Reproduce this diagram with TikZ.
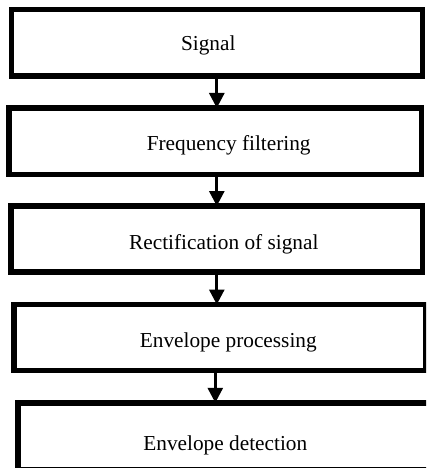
\documentclass[tikz,border=0pt]{standalone}
\usepackage{fontspec}
\setmainfont{Liberation Serif}
\usetikzlibrary{arrows.meta}
\begin{document}
\begin{tikzpicture}[x=1pt,y=-1pt,
  stagebox/.style={draw=black,line width=5.5pt,fill=none,rectangle,inner sep=0pt,outer sep=0pt},
  caption/.style={anchor=base,inner sep=0pt,font=\fontsize{21.3}{24}\selectfont},
  flow/.style={draw=black,line width=2.8pt,-{Triangle[length=15pt,width=15pt]}}]
  \useasboundingbox (0,0) rectangle (426,468);
  \clip (0,0) rectangle (426,468);
  \fill[white] (0,0) rectangle (426,468);

  % the five processing stages (sizes along the stroke centre)
  \node[stagebox] (box1) at (216.75,43) [minimum width=411pt,minimum height=66.5pt] {};
  \node[stagebox] (box2) at (215,141.25) [minimum width=412.5pt,minimum height=66.5pt] {};
  \node[stagebox] (box3) at (216.75,239) [minimum width=411.5pt,minimum height=66pt] {};
  \node[stagebox] (box4) at (219.9,337.5) [minimum width=412.25pt,minimum height=66pt] {};
  \node[stagebox] (box5) at (224,436.4) [minimum width=412pt,minimum height=67.25pt] {};

  % stage names
  \node[caption] (t1) at (208.3,50.7) {Signal};
  \node[caption] (t2) at (228.7,150) {Frequency filtering};
  \node[caption] (t3) at (223.8,249.3) {Rectification of signal};
  \node[caption] (t4) at (228.3,347.3) {Envelope processing};
  \node[caption] (t5) at (225.3,450.7) {Envelope detection};

  % connectors between stages
  \coordinate (c1) at (216.8,0);
  \coordinate (c2) at (216.8,0);
  \coordinate (c3) at (216.8,0);
  \coordinate (c4) at (215.3,0);
  \draw[flow] (box1.south -| c1) -- (box2.north -| c1);
  \draw[flow] (box2.south -| c2) -- (box3.north -| c2);
  \draw[flow] (box3.south -| c3) -- (box4.north -| c3);
  \draw[flow] (box4.south -| c4) -- (box5.north -| c4);
\end{tikzpicture}
\end{document}
